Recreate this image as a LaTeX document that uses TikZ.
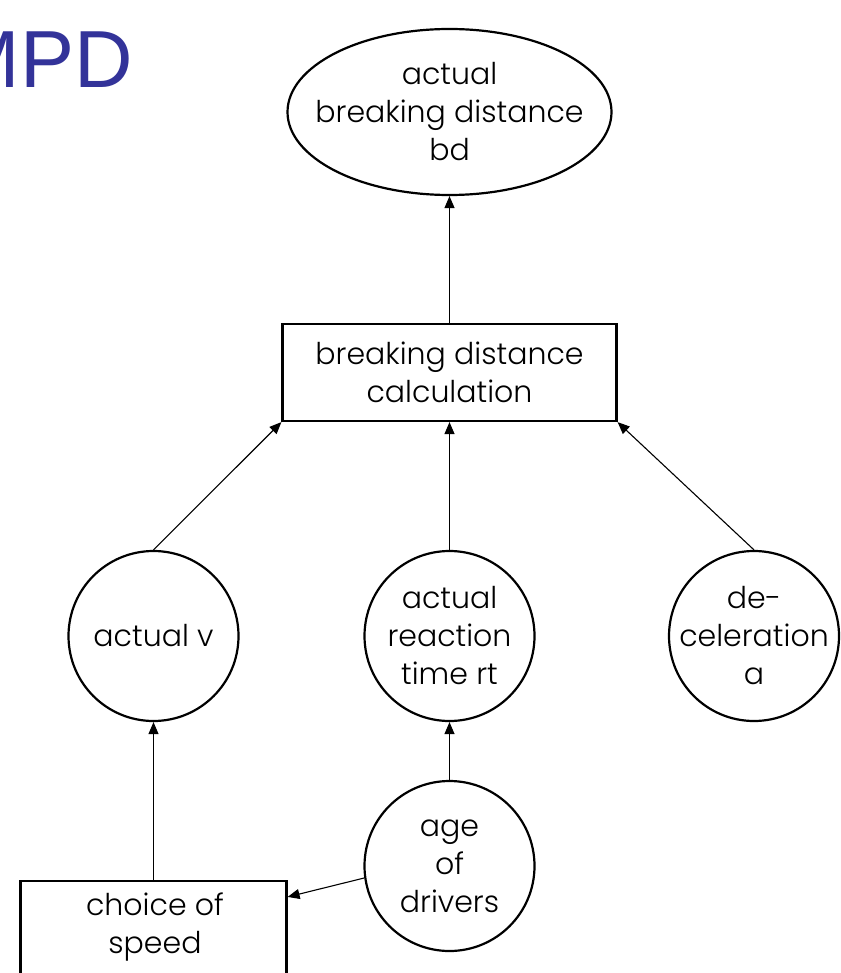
\documentclass[tikz,border=0pt]{standalone}
\usepackage{fontspec}
\setmainfont{Poppins}[UprightFont=* Light]
\newfontfamily\titlefont{Liberation Sans}
\usetikzlibrary{arrows.meta,shapes.geometric,calc}
\definecolor{titleblue}{RGB}{51,51,153}
\begin{document}
\begin{tikzpicture}[x=1pt,y=-1pt,
  every node/.style={font=\fontsize{30}{38}\selectfont, align=center, inner sep=0pt},
  shape line/.style={draw=black, line width=2.2pt},
  oval/.style={shape line, ellipse, inner sep=-40pt, minimum width=324pt, minimum height=166pt},
  roundnode/.style={shape line, circle, inner sep=-40pt, minimum size=170pt},
  boxnode/.style={shape line, rectangle},
  link/.style={draw=black, line width=1.1pt, -{Triangle[length=12pt,width=10pt]}}]
\useasboundingbox (0,0) rectangle (840,973);

% title
\node[anchor=base east, text=titleblue, font=\titlefont\fontsize{81}{90}\selectfont] (title) at (133,88) {MPD};

% nodes
\node[oval] (bd) at (449.5,112) {actual\\breaking distance\\bd};
\node[boxnode, minimum width=334pt, minimum height=97pt] (calc) at (449.5,372.5) {breaking distance\\calculation};
\node[roundnode] (v) at (153.5,636) {actual v};
\node[roundnode] (rt) at (449.5,636) {actual\\reaction\\time rt};
\node[roundnode] (dec) at (754,636) {de-\\celeration\\a};
\node[roundnode] (age) at (449.5,866) {age\\of\\drivers};
\node[boxnode, minimum width=266pt, minimum height=98pt] (speed) at (153.5,930) {};
\node (speedtext) at (155,927) {choice of\\speed};

% connectors
\draw[link] (calc.north) -- (bd.south);
\draw[link] (v.north) -- (calc.south west);
\draw[link] (rt.north) -- (calc.south);
\draw[link] (dec.north) -- (calc.south east);
\draw[link] (speed.north) -- (v.south);
\draw[link] (age.north) -- (rt.south);
\draw[link] (age.188) -- ($(speed.north east)!0.17!(speed.south east)$);
\end{tikzpicture}
\end{document}
